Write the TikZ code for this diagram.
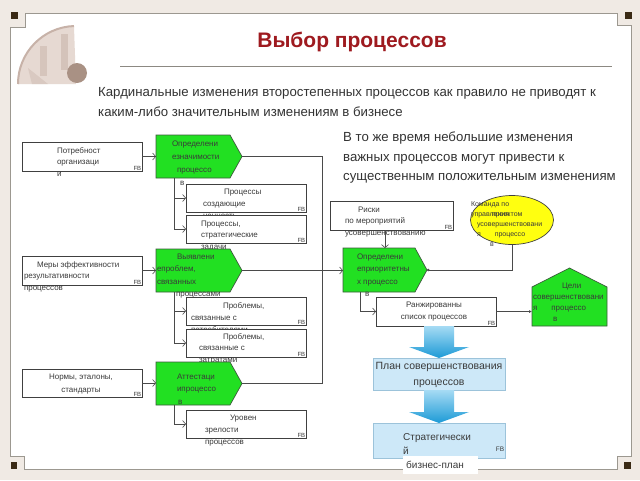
\documentclass[tikz,border=0pt]{standalone}
\usepackage{fontspec}
\setmainfont{Liberation Sans}
\usetikzlibrary{arrows.meta,shapes.geometric,calc}
\definecolor{bgout}{HTML}{F0EAE4}
\definecolor{framec}{HTML}{9C9890}
\definecolor{sqc}{HTML}{3A2A14}
\definecolor{titlered}{HTML}{9E1A1F}
\definecolor{txt}{HTML}{333333}
\definecolor{dtxt}{HTML}{3A3A3A}
\definecolor{grn}{HTML}{22E022}
\definecolor{pentb}{HTML}{3C5A3C}
\definecolor{ylw}{HTML}{FFFF10}
\definecolor{lblue}{HTML}{CDE8F8}
\definecolor{bblue}{HTML}{9CC3DA}
\definecolor{arrtop}{HTML}{A6DBF4}
\definecolor{arrbot}{HTML}{1C9AD6}
\definecolor{lnc}{HTML}{4A4A4A}
\definecolor{boxc}{HTML}{404040}
\definecolor{sepA}{HTML}{E6D9D2}
\definecolor{sepB}{HTML}{C7B2A8}
\definecolor{sepC}{HTML}{A99184}
\newcommand\dfont{\fontsize{8}{12}\selectfont}
\newcommand\pentpath[1]{\path[pentshape] (#1.north west) -- ([xshift=-12pt]#1.north east) -- (#1.east) -- ([xshift=-12pt]#1.south east) -- (#1.south west) -- cycle;}
\begin{document}
\begin{tikzpicture}[x=1pt,y=-1pt,
  box/.style={draw=boxc, fill=white, line width=0.7pt, minimum width=120pt, minimum height=28pt, inner sep=0pt, outer sep=0pt, anchor=north west},
  parea/.style={minimum width=86pt, minimum height=43pt, inner sep=0pt, outer sep=0pt, anchor=north west},
  pentshape/.style={fill=grn, draw=pentb, line width=0.7pt},
  lbl/.style={inner sep=0pt, outer sep=0pt, font=\dfont, text=dtxt, align=left, anchor=north west},
  fbm/.style={inner sep=0.6pt, font=\fontsize{6}{6}\selectfont, text=dtxt, anchor=south east},
  conn/.style={draw=lnc, line width=0.6pt},
  arr/.style={conn, -{Straight Barb[length=3pt,width=7pt]}},
  blbox/.style={draw=bblue, fill=lblue, line width=0.7pt, minimum width=132pt, inner sep=0pt, outer sep=0pt, anchor=north west},
  blarrow/.style={top color=arrtop, bottom color=arrbot, draw=none}
]
\useasboundingbox (0,0) rectangle (640,480);
\fill[bgout] (0,0) rectangle (640,480);
\path[fill=white, draw=framec, line width=1pt] (10,27) -- (25,27) -- (25,13) -- (617,13) -- (617,25) -- (631,25) -- (631,456) -- (617,456) -- (617,469) -- (24,469) -- (24,456) -- (10,456) -- cycle;
\fill[sqc] (11,12) rectangle (18,19);
\fill[sqc] (625,12) rectangle (632,19);
\fill[sqc] (624,462) rectangle (631,469);
\fill[sqc] (11,462) rectangle (17,469);
% engraving
\fill[sepA] (76,84) -- (18,84) arc[start angle=180,end angle=268,radius=58] -- cycle;
\draw[sepB, line width=2pt] (18,84) arc[start angle=180,end angle=268,radius=58];
\fill[sepB, opacity=0.55] (61,34) rectangle (68,70);
\fill[sepB, opacity=0.5] (40,46) rectangle (47,76);
\fill[sepB, opacity=0.4] (28,68) -- (48,84) -- (32,84) -- cycle;
\fill[sepC] (77,73) circle (10);
% title and texts
\node[font=\fontsize{21}{25}\selectfont\bfseries, text=titlered, inner sep=0pt] (title) at (352,42) {Выбор процессов};
\draw[draw=framec!90!black, line width=1pt] (120,66) -- (612,66);
\node[font=\fontsize{13.2}{20}\selectfont, text=txt, align=left, anchor=north west, inner sep=0pt] (sub) at (98,82) {\strut Кардинальные изменения второстепенных процессов как правило не приводят к\\каким-либо значительным изменениям в бизнесе};
\node[font=\fontsize{13.2}{19.5}\selectfont, text=txt, align=left, anchor=north west, inner sep=0pt] (rtext) at (343,128) {\strut В то же время небольшие изменения\\важных процессов могут привести к\\существенным положительным изменениям};
% input 1 / function 1
\node[box, minimum height=29pt] (in1) at (22,142) {};
\node[lbl, font=\fontsize{8}{11.5}\selectfont] (in1l) at (57,145) {\strut Потребност\\организаци\\и};
\node[fbm] (fbin1) at (in1.south east) {FB};
\node[parea] (p1) at (156,135) {};
\pentpath{p1}
\node[lbl, font=\fontsize{8}{13}\selectfont] (p1l) at (172,137) {\strut Определени\\езначимости\\\hspace{5pt}процессо\\\hspace{8pt}в};
\node[box] (a) at (186,184) {};
\node[lbl] (al) at (203,185.7) {\strut\hspace{21pt}Процессы\\создающие\\ценность};
\node[fbm] (fba) at (a.south east) {FB};
\node[box] (b) at (186,215) {};
\node[lbl, font=\fontsize{8}{11.5}\selectfont] (bl) at (201,218) {\strut Процессы,\\стратегические\\задачи};
\node[fbm] (fbb) at (b.south east) {FB};
% input 2 / function 2
\node[box, minimum height=29pt] (in2) at (22,256) {};
\node[lbl, font=\fontsize{8}{11.5}\selectfont] (in2l) at (24,259) {\strut\hspace{13pt}Меры эффективности\\результативности\\процессов};
\node[fbm] (fbin2) at (in2.south east) {FB};
\node[parea] (p2) at (156,249) {};
\pentpath{p2}
\node[lbl, font=\fontsize{8}{12.5}\selectfont] (p2l) at (157,250.3) {\strut\hspace{20pt}Выявлени\\епроблем,\\связанных\\\hspace{19pt}процессами};
\node[box] (c) at (186,297) {};
\node[lbl] (cl) at (191,299.7) {\strut\hspace{32pt}Проблемы,\\связанные с\\потребителями};
\node[fbm] (fbc) at (c.south east) {FB};
\node[box] (d) at (186,329) {};
\node[lbl, font=\fontsize{8}{11.5}\selectfont] (dl) at (199,331) {\strut\hspace{24pt}Проблемы,\\связанные с\\затратами};
\node[fbm] (fbd) at (d.south east) {FB};
% input 3 / function 3
\node[box] (in3) at (22,369) {};
\node[lbl, font=\fontsize{8}{13}\selectfont, align=center, anchor=north] (in3l) at (81,370) {\strut Нормы, эталоны,\\стандарты};
\node[fbm] (fbin3) at (in3.south east) {FB};
\node[parea] (p3) at (156,362) {};
\pentpath{p3}
\node[lbl, font=\fontsize{8}{12.5}\selectfont] (p3l) at (177,370.3) {\strut Аттестаци\\ипроцессо\\\hspace{1pt}в};
\node[box] (e) at (186,410) {};
\node[lbl] (el) at (205,411.7) {\strut\hspace{25pt}Уровен\\зрелости\\процессов};
\node[fbm] (fbe) at (e.south east) {FB};
% right part
\node[box, minimum width=123pt, minimum height=29pt] (risks) at (330,201) {};
\node[lbl, font=\fontsize{8}{11.5}\selectfont] (risksl) at (345,204) {\strut\hspace{13pt}Риски\\по мероприятий\\усовершенствованию};
\node[fbm] (fbr) at (risks.south east) {FB};
\node[ellipse, draw=boxc, fill=ylw, line width=0.7pt, minimum width=83pt, minimum height=49pt, inner sep=0pt] (team) at (512,220) {};
\node[lbl, font=\fontsize{7}{10}\selectfont] (teaml) at (471,199) {\strut Команда по\\управления\\\hspace{6pt}усовершенствовани\\\hspace{6pt}я\hspace{14pt}процессо\\\hspace{19pt}в};
\node[lbl, font=\fontsize{7}{10}\selectfont] (teaml2) at (492,209) {\strut проектом};
\node[parea, minimum width=84pt, minimum height=44pt] (p4) at (343,248) {};
\pentpath{p4}
\node[lbl, font=\fontsize{8}{12.5}\selectfont] (p4l) at (357,250.3) {\strut Определени\\еприоритетны\\х процессо\\\hspace{8pt}в};
\node[box, minimum height=29pt] (rank) at (376,297) {};
\node[lbl, align=center, anchor=north] (rankl) at (434,298.7) {\strut Ранжированны\\список процессов};
\node[fbm] (fbrank) at (rank.south east) {FB};
\node[minimum width=75pt, minimum height=58pt, inner sep=0pt, outer sep=0pt, anchor=north west] (goal) at (532,268) {};
\path[pentshape] (goal.south west) -- ([yshift=-19pt]goal.north west) -- (goal.north) -- ([yshift=-19pt]goal.north east) -- (goal.south east) -- cycle;
\node[lbl, font=\fontsize{8}{11}\selectfont] (goall) at (533,280.4) {\strut\hspace{29pt}Цели\\совершенствовани\\я\hspace{14pt}процессо\\\hspace{20pt}в};
% blue boxes and arrows
\node[blbox, minimum height=32pt] (plan) at (373,358) {};
\node[inner sep=0pt, font=\fontsize{10.5}{16}\selectfont, text=dtxt, align=center, anchor=north] (planl) at (439,358.5) {\strut План совершенствования\\процессов};
\node[blbox, minimum height=35pt] (strat) at (373,423) {};
\fill[white] (403,456) rectangle (478,474);
\node[inner sep=0pt, font=\fontsize{10}{14}\selectfont, text=dtxt, align=left, anchor=north west] (stratl) at (403,430) {\strut Стратегически\\й\\\hspace{3pt}бизнес-план};
\node[fbm, font=\fontsize{6.5}{7}\selectfont] (fbstrat) at ([yshift=6pt]strat.south east) {FB};
\shade[blarrow] ($(rank.south -| plan.north)+(-15,0)$) -- ($(rank.south -| plan.north)+(15,0)$) -- ($(plan.north)+(15,-11)$) -- ($(plan.north)+(30,-11)$) -- (plan.north) -- ($(plan.north)+(-30,-11)$) -- ($(plan.north)+(-15,-11)$) -- cycle;
\shade[blarrow] ($(plan.south)+(-15,0)$) -- ($(plan.south)+(15,0)$) -- ($(strat.north)+(15,-11)$) -- ($(strat.north)+(30,-11)$) -- (strat.north) -- ($(strat.north)+(-30,-11)$) -- ($(strat.north)+(-15,-11)$) -- cycle;
% connectors
\coordinate (bus) at (322,0);
\draw[arr] (in1.east) -- (in1.east -| p1.west);
\draw[arr] (in2.east) -- (in2.east -| p2.west);
\draw[arr] (in3.east) -- (in3.east -| p3.west);
\draw[arr] ($(p1.south west)+(18,0)$) |- (a.west);
\draw[arr] ($(p1.south west)+(18,0)$) |- (b.west);
\draw[arr] ($(p2.south west)+(18,0)$) |- (c.west);
\draw[arr] ($(p2.south west)+(18,0)$) |- (d.west);
\draw[arr] ($(p3.south west)+(18,0)$) |- (e.west);
\draw[conn] (p1.east) -- (p1.east -| bus) -- (p3.east -| bus) -- (p3.east);
\draw[arr] (p2.east) -- (p2.east -| p4.west);
\draw[arr] (risks.south -| p4.north) -- (p4.north);
\draw[conn, -{Circle[length=2.5pt]}] (team.south) |- (p4.east);
\draw[arr] ($(p4.south west)+(17,0)$) |- (rank.west);
\draw[conn, -{Latex[length=3pt,width=3pt]}] (rank.east) -- (rank.east -| goal.west);
\end{tikzpicture}
\end{document}
